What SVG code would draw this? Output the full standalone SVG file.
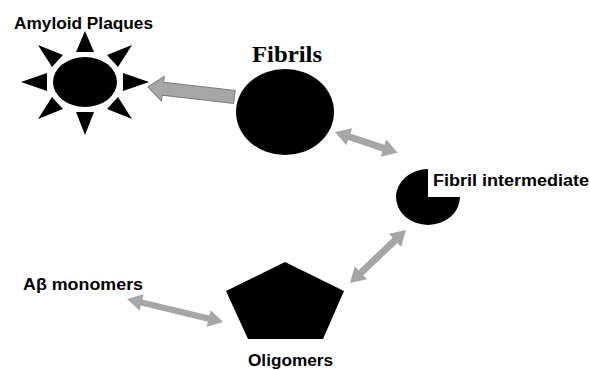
<svg xmlns="http://www.w3.org/2000/svg" width="590" height="370" viewBox="0 0 590 370">
<style>
.lbl{font-family:"Liberation Sans",Arial,sans-serif;font-weight:bold;font-size:16px;fill:#000}
.ser{font-family:"Liberation Serif","Times New Roman",serif;font-weight:bold;font-size:24px;fill:#000}
.shape{fill:#000}
.dbl{fill:#a6a6a6}
.big{fill:#a6a6a6;stroke:#7f7f7f;stroke-width:1}
</style>
<rect width="590" height="370" fill="#fff"/>
<g id="connectors">
  <polygon class="big" transform="translate(148,87) rotate(6.56)" points="0,0 15,-12.5 15,-6.5 87,-6.5 87,6.5 15,6.5 15,12.5"/>
  <polygon class="dbl" transform="translate(335,132) rotate(18.43)" points="0,0 15,-9 15,-3.5 51,-3.5 51,-9 66,0 51,9 51,3.5 15,3.5 15,9"/>
  <polygon class="dbl" transform="translate(350,283) rotate(-43.4)" points="0,0 15,-9 15,-3.5 62,-3.5 62,-9 77,0 62,9 62,3.5 15,3.5 15,9"/>
  <polygon class="dbl" transform="translate(127,299) rotate(13.5)" points="0,0 15,-8.5 15,-3.2 84,-3.2 84,-8.5 99,0 84,8.5 84,3.2 15,3.2 15,8.5"/>
</g>
<g id="amyloid-plaques">
  <ellipse class="shape" cx="85" cy="82" rx="32" ry="25"/>
  <polygon class="shape" points="85,31 76,52 94,52"/>
  <polygon class="shape" points="85,135 76,112 94,112"/>
  <polygon class="shape" points="21,82 47,73 47,91"/>
  <polygon class="shape" points="149,82 123,73 123,91"/>
  <polygon class="shape" points="38,45 63,55 52,67"/>
  <polygon class="shape" points="132,45 107,55 118,67"/>
  <polygon class="shape" points="38,119 52,97 63,109"/>
  <polygon class="shape" points="132,119 118,97 107,109"/>
  <text class="lbl" x="14" y="29" textLength="139" lengthAdjust="spacingAndGlyphs">Amyloid Plaques</text>
</g>
<g id="fibrils">
  <ellipse class="shape" cx="285" cy="112" rx="49" ry="43"/>
  <text class="ser" x="252" y="62" textLength="70" lengthAdjust="spacingAndGlyphs">Fibrils</text>
</g>
<g id="fibril-intermediate">
  <path class="shape" d="M428,197 L428,169 A32,28 0 1 0 460,197 Z"/>
  <text class="lbl" x="433" y="186" textLength="156" lengthAdjust="spacingAndGlyphs">Fibril intermediate</text>
</g>
<g id="oligomers">
  <polygon class="shape" points="285,262 344,291 323,339 248,339 226,291"/>
  <text class="lbl" x="248" y="366" textLength="85" lengthAdjust="spacingAndGlyphs">Oligomers</text>
</g>
<g id="monomers">
  <text class="lbl" x="23" y="290" textLength="120" lengthAdjust="spacingAndGlyphs">Aβ monomers</text>
</g>
</svg>
